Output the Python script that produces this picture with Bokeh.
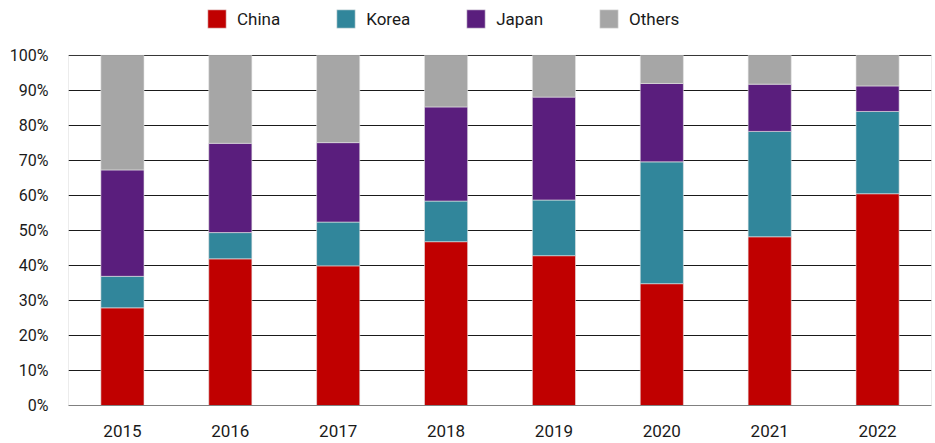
from bokeh.plotting import figure
from bokeh.models import (FixedTicker, PrintfTickFormatter, Legend, LegendItem, Range1d,
                          ColumnDataSource, BoxAnnotation)
from bokeh.embed import file_html
from bokeh.resources import INLINE

years = ["2015", "2016", "2017", "2018", "2019", "2020", "2021", "2022"]
china = [27.9, 41.9, 39.9, 46.8, 42.8, 34.8, 48.2, 60.5]
korea = [9.0, 7.5, 12.5, 11.6, 15.9, 34.8, 30.1, 23.5]
japan = [30.4, 25.5, 22.7, 26.9, 29.4, 22.4, 13.5, 7.3]
others = [round(100 - c - k - j, 1) for c, k, j in zip(china, korea, japan)]
y_ticks = list(range(0, 101, 10))

series = ["China", "Korea", "Japan", "Others"]
colors = ["#c00000", "#31869b", "#5a1e7d", "#a6a6a6"]

src = ColumnDataSource(dict(year=years, China=china, Korea=korea, Japan=japan, Others=others))

FONT = "Roboto"

# frame extends above 100% so that the legend (drawn inside the frame) is not clipped
p = figure(x_range=years, y_range=Range1d(0, 113.7), width=935, height=443,
           output_backend="svg", toolbar_location=None,
           min_border_left=68, min_border_right=4, min_border_top=7, min_border_bottom=38)
p.x_range.range_padding = 0

renderers = p.vbar_stack(series, x="year", width=0.4, source=src, color=colors,
                         line_color="#e6e6e6", line_width=0.6)

p.outline_line_color = None
p.add_layout(BoxAnnotation(bottom=0, top=100, fill_alpha=0, line_color="#808080",
                           line_width=1, level="overlay"))

p.xgrid.grid_line_color = None
p.ygrid.grid_line_color = "#1a1a1a"
p.ygrid.grid_line_width = 1
p.ygrid.level = "underlay"

p.yaxis.ticker = FixedTicker(ticks=y_ticks)
p.yaxis.formatter = PrintfTickFormatter(format="%d%%")
for ax in (p.xaxis, p.yaxis):
    ax.major_tick_line_color = None
    ax.minor_tick_line_color = None
    ax.major_label_text_font = FONT
    ax.major_label_text_font_size = "16px"
    ax.major_label_text_color = "#1a1a1a"
p.yaxis.axis_line_color = None
p.xaxis.axis_line_color = "#808080"
p.yaxis.major_label_standoff = 14
p.xaxis.major_label_standoff = 13
p.xaxis.major_label_text_font_size = "17px"

legend = Legend(items=[LegendItem(label=s, renderers=[r]) for s, r in zip(series, renderers)],
                orientation="horizontal", location=(137, 375),
                glyph_width=23, glyph_height=23, label_standoff=9, spacing=54,
                padding=0, margin=0, border_line_color=None, background_fill_alpha=0,
                label_text_font=FONT, label_text_font_size="17px", label_text_color="#1a1a1a",
                label_height=23)
p.add_layout(legend, "center")

open("out.html", "w").write(file_html(p, INLINE))
